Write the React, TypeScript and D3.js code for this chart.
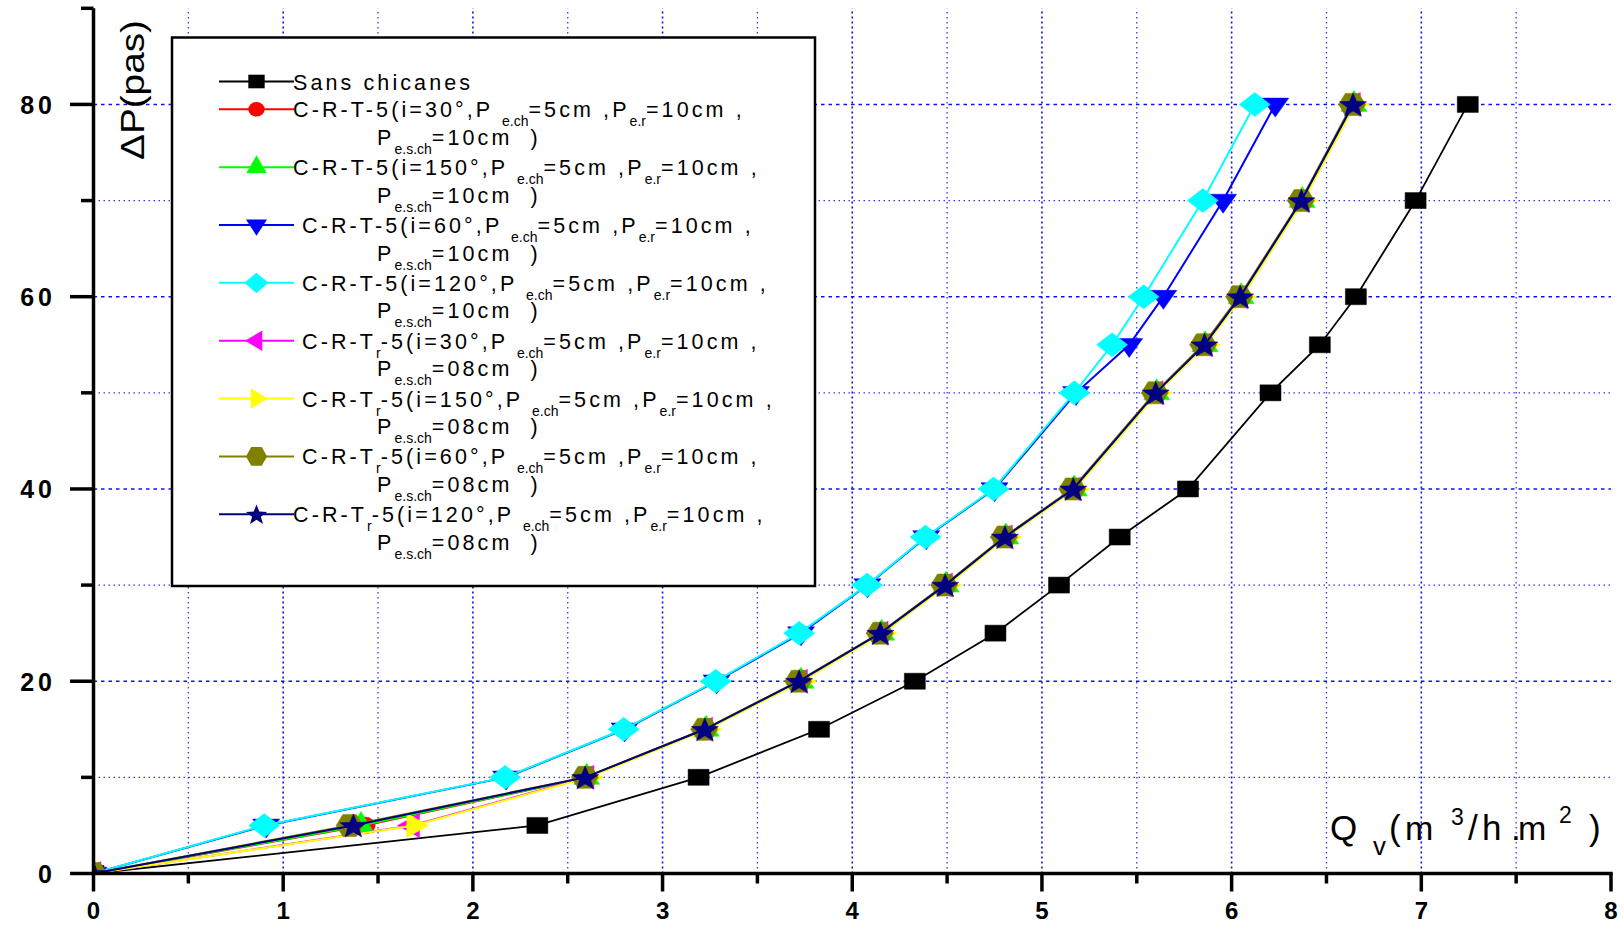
import React from 'react';
import * as d3 from 'd3';

// ---------- DATA ----------
const deltaP = [0, 5, 10, 15, 20, 25, 30, 35, 40, 50, 55, 60, 70, 80];

const qSansChicanes = [0, 2.34, 3.19, 3.825, 4.33, 4.755, 5.09, 5.41, 5.77, 6.205, 6.465, 6.655, 6.97, 7.245];
const qT5_30 = [0, 1.43, 2.6, 3.225, 3.725, 4.15, 4.49, 4.805, 5.165, 5.6, 5.857, 6.045, 6.368, 6.64];
const qT5_150 = [0, 1.41, 2.6, 3.23, 3.73, 4.155, 4.495, 4.81, 5.17, 5.605, 5.86, 6.05, 6.372, 6.645];
const qT5_60 = [0, 0.91, 2.175, 2.8, 3.285, 3.73, 4.08, 4.39, 4.75, 5.18, 5.46, 5.64, 5.955, 6.23];
const qT5_120 = [0, 0.9, 2.17, 2.795, 3.28, 3.72, 4.078, 4.386, 4.745, 5.171, 5.37, 5.536, 5.848, 6.122];
const qTr5_30 = [0, 1.68, 2.6, 3.225, 3.725, 4.15, 4.49, 4.805, 5.165, 5.6, 5.857, 6.045, 6.368, 6.64];
const qTr5_150 = [0, 1.69, 2.61, 3.235, 3.735, 4.16, 4.5, 4.815, 5.175, 5.61, 5.865, 6.055, 6.378, 6.65];
const qTr5_60 = [0, 1.35, 2.59, 3.22, 3.715, 4.145, 4.485, 4.8, 5.16, 5.595, 5.85, 6.04, 6.365, 6.635];
const qTr5_120 = [0, 1.37, 2.592, 3.223, 3.72, 4.148, 4.49, 4.805, 5.165, 5.6, 5.857, 6.045, 6.368, 6.64];

const xTicksMajor = [0, 1, 2, 3, 4, 5, 6, 7, 8];
const xTicksMinor = [0.5, 1.5, 2.5, 3.5, 4.5, 5.5, 6.5, 7.5];
const yTicksMajor = [0, 20, 40, 60, 80];
const yTicksMinor = [10, 30, 50, 70, 90];

const legendFirstLines = [
  'Sans chicanes',
  'C-R-T-5(i=30°,P _{e.ch}=5cm ,P_{e.r}=10cm ,',
  'C-R-T-5(i=150°,P _{e.ch}=5cm ,P_{e.r}=10cm ,',
  ' C-R-T-5(i=60°,P _{e.ch}=5cm ,P_{e.r}=10cm ,',
  ' C-R-T-5(i=120°,P _{e.ch}=5cm ,P_{e.r}=10cm ,',
  ' C-R-T_{r}-5(i=30°,P _{e.ch}=5cm ,P_{e.r}=10cm ,',
  ' C-R-T_{r}-5(i=150°,P _{e.ch}=5cm ,P_{e.r}=10cm ,',
  ' C-R-T_{r}-5(i=60°,P _{e.ch}=5cm ,P_{e.r}=10cm ,',
  'C-R-T_{r}-5(i=120°,P _{e.ch}=5cm ,P_{e.r}=10cm ,',
];
const legendSecondLines = [
  '',
  'P_{e.s.ch}=10cm  )',
  'P_{e.s.ch}=10cm  )',
  'P_{e.s.ch}=10cm  )',
  'P_{e.s.ch}=10cm  )',
  'P_{e.s.ch}=08cm  )',
  'P_{e.s.ch}=08cm  )',
  'P_{e.s.ch}=08cm  )',
  'P_{e.s.ch}=08cm  )',
];

// ---------- STYLE ----------
type Shape = 'square' | 'circle' | 'triUp' | 'triDown' | 'diamond' | 'triLeft' | 'triRight' | 'hexagon' | 'star';
const seriesStyle: { values: number[]; color: string; shape: Shape; w: number; h: number; lw: number }[] = [
  { values: qSansChicanes, color: '#000000', shape: 'square', w: 21, h: 16, lw: 1.8 },
  { values: qT5_30, color: '#ff0000', shape: 'circle', w: 21, h: 17, lw: 2 },
  { values: qT5_150, color: '#00ff00', shape: 'triUp', w: 26, h: 21, lw: 2 },
  { values: qT5_60, color: '#0000ff', shape: 'triDown', w: 27, h: 19, lw: 2 },
  { values: qT5_120, color: '#00ffff', shape: 'diamond', w: 31, h: 24, lw: 2 },
  { values: qTr5_30, color: '#ff00ff', shape: 'triLeft', w: 22, h: 24, lw: 2 },
  { values: qTr5_150, color: '#ffff00', shape: 'triRight', w: 22, h: 24, lw: 2 },
  { values: qTr5_60, color: '#808000', shape: 'hexagon', w: 27, h: 22, lw: 2 },
  { values: qTr5_120, color: '#000080', shape: 'star', w: 27, h: 23, lw: 2 },
];

const FONT = '"Liberation Sans", Arial, Helvetica, sans-serif';

function pts(p: [number, number][]) {
  return 'M' + p.map((q) => q[0].toFixed(2) + ',' + q[1].toFixed(2)).join('L') + 'Z';
}

function shapePath(shape: Shape, w: number, h: number): string {
  switch (shape) {
    case 'square':
      return pts([[-w / 2, -h / 2], [w / 2, -h / 2], [w / 2, h / 2], [-w / 2, h / 2]]);
    case 'circle': {
      const rx = w / 2, ry = h / 2;
      return `M${-rx},0A${rx},${ry} 0 1,0 ${rx},0A${rx},${ry} 0 1,0 ${-rx},0Z`;
    }
    case 'triUp':
      return pts([[0, (-2 * h) / 3], [w / 2, h / 3], [-w / 2, h / 3]]);
    case 'triDown':
      return pts([[-w / 2, -h / 3], [w / 2, -h / 3], [0, (2 * h) / 3]]);
    case 'triLeft':
      return pts([[(-2 * w) / 3, 0], [w / 3, -h / 2], [w / 3, h / 2]]);
    case 'triRight':
      return pts([[(2 * w) / 3, 0], [-w / 3, -h / 2], [-w / 3, h / 2]]);
    case 'diamond':
      return pts([[0, -h / 2], [w / 2, 0], [0, h / 2], [-w / 2, 0]]);
    case 'hexagon':
      return pts([[-w / 2, 0], [-w / 4, -h / 2], [w / 4, -h / 2], [w / 2, 0], [w / 4, h / 2], [-w / 4, h / 2]]);
    case 'star': {
      const raw: [number, number][] = [];
      for (let i = 0; i < 10; i++) {
        const r = i % 2 === 0 ? 1 : 0.42;
        const a = -Math.PI / 2 + (i * Math.PI) / 5;
        raw.push([r * Math.cos(a), r * Math.sin(a)]);
      }
      const sx = w / (2 * Math.cos(Math.PI / 10));
      const sy = h / (1 + Math.cos(Math.PI / 5));
      const oy = (1 - Math.cos(Math.PI / 5)) / 2;
      return pts(raw.map((p) => [p[0] * sx, (p[1] + oy) * sy] as [number, number]));
    }
  }
  return '';
}

function RichText({ x, y, text }: { x: number; y: number; text: string }) {
  const parts = text.split(/(_\{[^}]*\})/).filter((p) => p !== '');
  let inSub = false;
  const kids = parts.map((p, i) => {
    if (p.startsWith('_{')) {
      const s = p.slice(2, -1);
      const el = (
        <tspan key={i} fontSize={14} letterSpacing={0} dy={inSub ? 0 : 9}>
          {s}
        </tspan>
      );
      inSub = true;
      return el;
    }
    const el = (
      <tspan key={i} dy={inSub ? -9 : 0}>
        {p}
      </tspan>
    );
    inSub = false;
    return el;
  });
  return (
    <text x={x} y={y} fontSize={21.5} letterSpacing={3.1} fontFamily={FONT} fill="#000" style={{ whiteSpace: 'pre' }}>
      {kids}
    </text>
  );
}

export default function App() {
  const W = 1624, H = 925;
  const x = d3.scaleLinear().domain([0, 8]).range([93.5, 1611]);
  const y = d3.scaleLinear().domain([0, 90]).range([873.5, 8.3]);
  const line = d3
    .line<[number, number]>()
    .x((d) => x(d[0]))
    .y((d) => y(d[1]));

  const gridV = [...xTicksMinor, ...xTicksMajor.filter((v) => v > 0 && v < 8)];
  const gridHMajor = yTicksMajor.filter((v) => v > 0);
  const gridHMinor = yTicksMinor.filter((v) => v < 90);

  const legX0 = 219, legX1 = 294;
  const legMid = (legX0 + legX1) / 2;
  const legendBaselines = legendFirstLines.map((_, i) => (i === 0 ? 89.5 : 117.3 + 57.85 * (i - 1)));

  const xTitle: { t: string; x: number; y: number; s: number }[] = [
    { t: 'Q', x: 1330, y: 840, s: 35 },
    { t: 'v', x: 1373, y: 855, s: 26 },
    { t: '(', x: 1389, y: 840, s: 35 },
    { t: 'm', x: 1405, y: 840, s: 34 },
    { t: '3', x: 1451, y: 825, s: 23 },
    { t: '/', x: 1468, y: 840, s: 35 },
    { t: 'h', x: 1482, y: 840, s: 35 },
    { t: '.', x: 1511, y: 840, s: 35 },
    { t: 'm', x: 1518, y: 840, s: 34 },
    { t: '2', x: 1559, y: 823, s: 23 },
    { t: ')', x: 1589, y: 840, s: 35 },
  ];

  return (
    <svg
      width={W}
      height={H}
      viewBox={`0 0 ${W} ${H}`}
      style={{ position: 'absolute', left: 0, top: 0, display: 'block', background: '#fff' }}
    >
      <defs>
        <clipPath id="plotClip">
          <rect x={x(0)} y={0} width={W - x(0)} height={y(0)} />
        </clipPath>
      </defs>
      <rect x={0} y={0} width={W} height={H} fill="#fff" />

      {/* grid */}
      <g stroke="#0000ff" fill="none">
        {gridV.map((v) => (
          <line
            key={'gv' + v}
            x1={x(v)}
            x2={x(v)}
            y1={y(0)}
            y2={y(90)}
            strokeWidth={Number.isInteger(v) ? 1.6 : 1.3}
            strokeDasharray={Number.isInteger(v) ? '2,3' : '1.5,3.5'}
            opacity={Number.isInteger(v) ? 0.95 : 0.8}
          />
        ))}
        {gridHMajor.map((v) => (
          <line key={'ghM' + v} x1={x(0)} x2={x(8)} y1={y(v)} y2={y(v)} strokeWidth={1.6} strokeDasharray="3.5,4" opacity={0.95} />
        ))}
        {gridHMinor.map((v) => (
          <line key={'ghm' + v} x1={x(0)} x2={x(8)} y1={y(v)} y2={y(v)} strokeWidth={1.3} strokeDasharray="1.5,3.5" opacity={0.8} />
        ))}
      </g>

      {/* data */}
      <g clipPath="url(#plotClip)">
        {seriesStyle.map((s, si) => {
          const pairs = s.values.map((q, i) => [q, deltaP[i]] as [number, number]);
          return (
            <g key={'s' + si}>
              <path d={line(pairs) || ''} fill="none" stroke={s.color} strokeWidth={s.lw} />
              {pairs.map((p, i) => (
                <path
                  key={i}
                  d={shapePath(s.shape, s.w, s.h)}
                  transform={`translate(${x(p[0])},${y(p[1])})`}
                  fill={s.color}
                  stroke={s.color}
                  strokeWidth={0.5}
                />
              ))}
            </g>
          );
        })}
      </g>

      {/* legend */}
      <rect x={172} y={37.5} width={643} height={548.5} fill="#fff" stroke="#000" strokeWidth={2.5} />
      {seriesStyle.map((s, i) => {
        const base = legendBaselines[i];
        const ly = base - 8;
        return (
          <g key={'lg' + i}>
            <line x1={legX0} x2={legX1} y1={ly} y2={ly} stroke={s.color} strokeWidth={2} />
            <path d={shapePath(s.shape, s.w * 0.78, s.h * 0.85)} transform={`translate(${legMid},${ly})`} fill={s.color} />
            <RichText x={293} y={base} text={legendFirstLines[i]} />
            {legendSecondLines[i] ? <RichText x={377} y={base + 27.5} text={legendSecondLines[i]} /> : null}
          </g>
        );
      })}

      {/* axes */}
      <g stroke="#000" strokeWidth={3.5} fill="none" strokeLinecap="butt">
        <line x1={x(0)} x2={x(0)} y1={y(0) + 1.75} y2={y(90)} />
        <line x1={x(0) - 1.75} x2={x(8) + 1.75} y1={y(0)} y2={y(0)} />
        {yTicksMajor.map((v) => (
          <line key={'ytM' + v} x1={70} x2={x(0)} y1={y(v)} y2={y(v)} />
        ))}
        {yTicksMinor.map((v) => (
          <line key={'ytm' + v} x1={81} x2={x(0)} y1={y(v)} y2={y(v)} />
        ))}
        {xTicksMajor.map((v) => (
          <line key={'xtM' + v} x1={x(v)} x2={x(v)} y1={y(0)} y2={y(0) + 18} />
        ))}
        {xTicksMinor.map((v) => (
          <line key={'xtm' + v} x1={x(v)} x2={x(v)} y1={y(0)} y2={y(0) + 10} />
        ))}
      </g>

      {/* tick labels */}
      <g fontFamily={FONT} fontWeight="bold" fill="#000">
        {yTicksMajor.map((v) => (
          <text key={'yl' + v} x={56} y={y(v) + 9.5} fontSize={25} letterSpacing={4} textAnchor="end">
            {d3.format('d')(v)}
          </text>
        ))}
        {xTicksMajor.map((v) => (
          <text key={'xl' + v} x={x(v)} y={919} fontSize={24} textAnchor="middle">
            {d3.format('d')(v)}
          </text>
        ))}
      </g>

      {/* axis titles */}
      <text
        transform="translate(144,90) rotate(-90)"
        textAnchor="middle"
        fontFamily={FONT}
        fontSize={33}
        textLength={140}
        lengthAdjust="spacingAndGlyphs"
        fill="#000"
      >
        ΔP(pas)
      </text>
      <g fontFamily={FONT} fill="#000">
        {xTitle.map((t, i) => (
          <text key={'xt' + i} x={t.x} y={t.y} fontSize={t.s}>
            {t.t}
          </text>
        ))}
      </g>
    </svg>
  );
}
